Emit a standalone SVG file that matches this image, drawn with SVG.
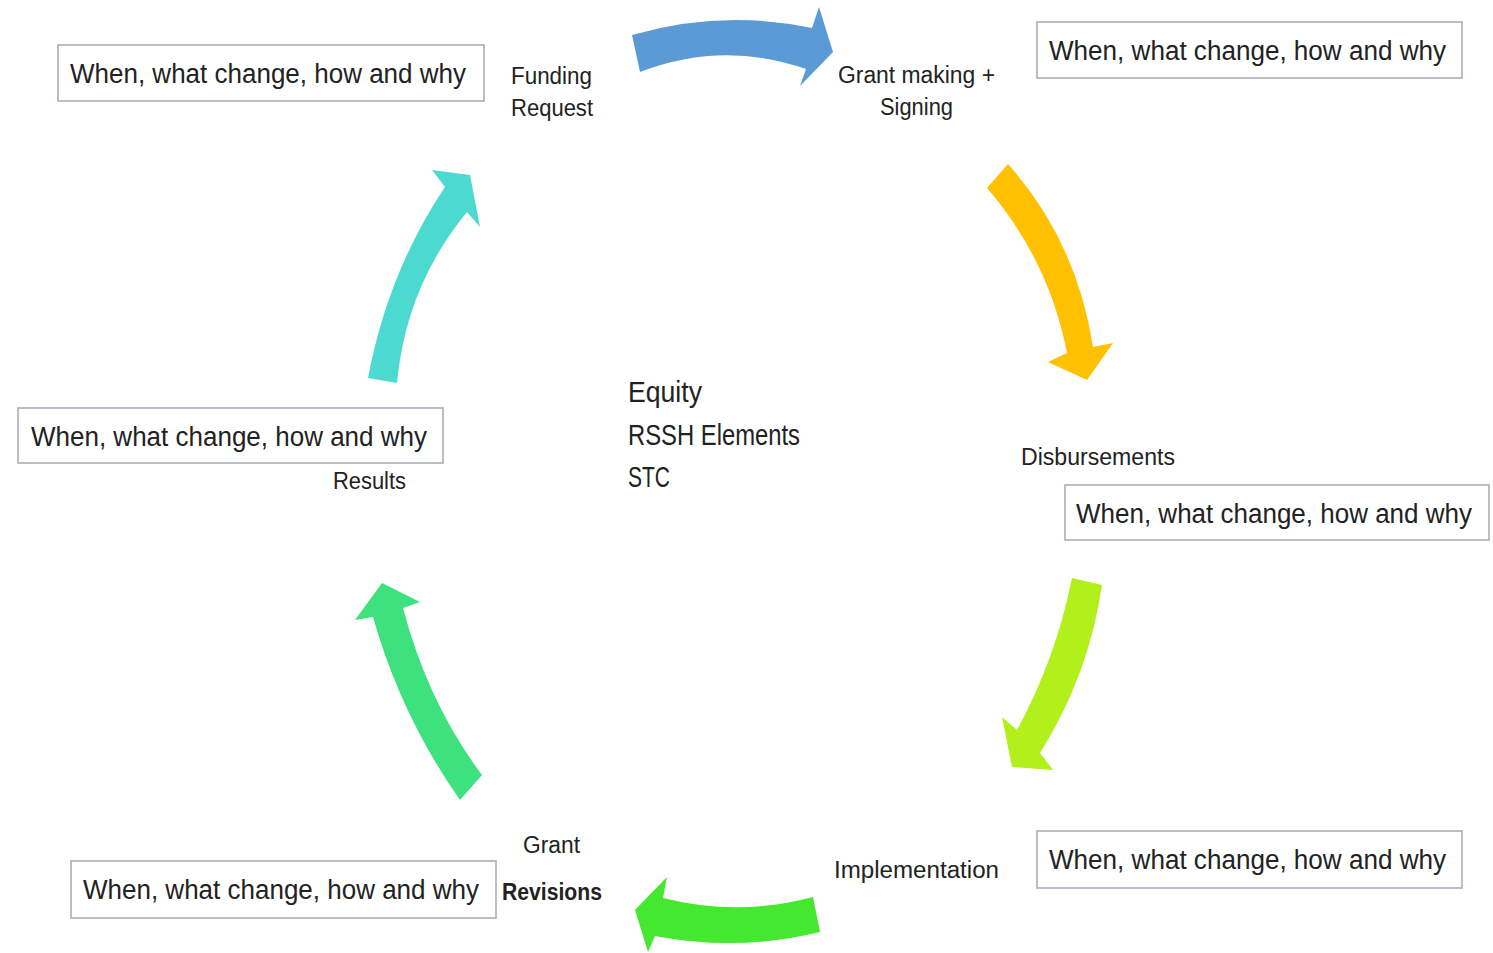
<svg xmlns="http://www.w3.org/2000/svg" width="1493" height="953" viewBox="0 0 1493 953">
<style>
.box rect{fill:#fff;stroke:#A9AEB8;stroke-width:1.6}
.t{font-family:"Liberation Sans",Arial,sans-serif;fill:#222;}
.bt{font-size:27px}
.lb{font-size:23px}
.ct{font-size:30px}
</style>
<rect width="1493" height="953" fill="#fff"/>
<g id="connectors">
<path id="arrow-blue" fill="#5B9BD5" d="M632,35 Q722,9 812,28 L819,7 L833,52 L800,86 L806,69 Q723,40 640,72 Z"/>
<path id="arrow-yellow" fill="#FFC000" d="M1008,164 Q1077,242 1093,347 L1113,343 L1087,380 L1048,362 L1067,353 Q1049,260 987,188 Z"/>
<path id="arrow-lime" fill="#B2F01C" d="M1102,585 Q1089,675 1040,753 L1053,770 L1012,767 L1002,717 L1017,730 Q1056,658 1072,578 Z"/>
<path id="arrow-green" fill="#44E82F" d="M813,897 Q738,917 663,898 L667,877 L635,910 L648,952 L655,936 Q738,952 820,932 Z"/>
<path id="arrow-emerald" fill="#3DE17D" d="M482,775 Q428,703 403,608 L420,602 L382,583 L355,620 L373,617 Q401,716 460,800 Z"/>
<path id="arrow-teal" fill="#4CD9D0" d="M397,383 Q406,286 467,212 L480,227 L470,175 L432,170 L445,187 Q388,272 368,378 Z"/>
</g>
<g id="box-funding" class="box">
<rect x="58" y="45" width="426" height="56"/>
<text class="t bt" x="70" y="83" textLength="396" lengthAdjust="spacingAndGlyphs">When, what change, how and why</text>
</g>
<g id="box-grantmaking" class="box">
<rect x="1037" y="22" width="425" height="56"/>
<text class="t bt" x="1049" y="60" textLength="397" lengthAdjust="spacingAndGlyphs">When, what change, how and why</text>
</g>
<g id="box-results" class="box">
<rect x="18" y="408" width="425" height="55"/>
<text class="t bt" x="31" y="446" textLength="396" lengthAdjust="spacingAndGlyphs">When, what change, how and why</text>
</g>
<g id="box-disbursements" class="box">
<rect x="1065" y="485" width="424" height="55"/>
<text class="t bt" x="1076" y="523" textLength="396" lengthAdjust="spacingAndGlyphs">When, what change, how and why</text>
</g>
<g id="box-implementation" class="box">
<rect x="1037" y="831" width="425" height="57"/>
<text class="t bt" x="1049" y="869" textLength="397" lengthAdjust="spacingAndGlyphs">When, what change, how and why</text>
</g>
<g id="box-revisions" class="box">
<rect x="71" y="861" width="425" height="57"/>
<text class="t bt" x="83" y="899" textLength="396" lengthAdjust="spacingAndGlyphs">When, what change, how and why</text>
</g>
<g id="label-funding">
<text class="t lb" x="511" y="84" textLength="81" lengthAdjust="spacingAndGlyphs">Funding</text>
<text class="t lb" x="511" y="116" textLength="82" lengthAdjust="spacingAndGlyphs">Request</text>
</g>
<g id="label-grantmaking">
<text class="t lb" x="838" y="83" textLength="157" lengthAdjust="spacingAndGlyphs">Grant making +</text>
<text class="t lb" x="880" y="115" textLength="73" lengthAdjust="spacingAndGlyphs">Signing</text>
</g>
<g id="label-disbursements">
<text class="t lb" x="1021" y="465" textLength="154" lengthAdjust="spacingAndGlyphs">Disbursements</text>
</g>
<g id="label-implementation">
<text class="t lb" x="834" y="878" textLength="165" lengthAdjust="spacingAndGlyphs">Implementation</text>
</g>
<g id="label-revisions">
<text class="t lb" x="523" y="853" textLength="57" lengthAdjust="spacingAndGlyphs">Grant</text>
<text class="t lb" x="502" y="900" font-weight="bold" textLength="100" lengthAdjust="spacingAndGlyphs">Revisions</text>
</g>
<g id="label-results">
<text class="t lb" x="333" y="489" textLength="73" lengthAdjust="spacingAndGlyphs">Results</text>
</g>
<g id="center">
<text class="t ct" x="628" y="402" textLength="74" lengthAdjust="spacingAndGlyphs">Equity</text>
<text class="t ct" x="628" y="445" textLength="172" lengthAdjust="spacingAndGlyphs">RSSH Elements</text>
<text class="t ct" x="628" y="487" textLength="42" lengthAdjust="spacingAndGlyphs">STC</text>
</g>
</svg>
